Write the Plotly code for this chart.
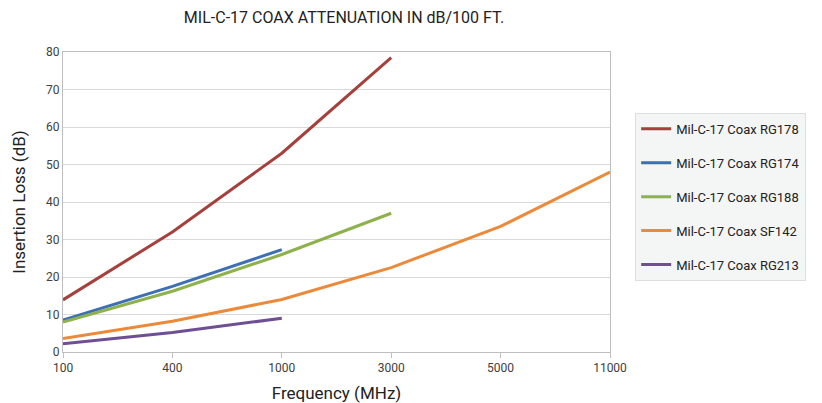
import plotly.graph_objects as go

# Frequency categories (MHz), evenly spaced on the axis
freqs = ["100", "400", "1000", "3000", "5000", "11000"]

# Insertion loss (dB / 100 ft) per cable type
rg178 = [13.9, 32.0, 53.0, 78.5]
rg174 = [8.5, 17.5, 27.3]
rg188 = [8.0, 16.2, 26.0, 37.0]
sf142 = [3.6, 8.2, 14.0, 22.5, 33.5, 48.0]
rg213 = [2.2, 5.2, 9.0]

series = [
    ("Mil-C-17 Coax RG178", rg178, "#a5403c"),
    ("Mil-C-17 Coax RG174", rg174, "#3d6fb5"),
    ("Mil-C-17 Coax RG188", rg188, "#8db24c"),
    ("Mil-C-17 Coax SF142", sf142, "#ea8a3a"),
    ("Mil-C-17 Coax RG213", rg213, "#6f4f93"),
]

fig = go.Figure()
for i, (name, vals, color) in enumerate(series):
    fig.add_trace(go.Scatter(
        x=freqs[:len(vals)], y=vals, name=name, mode="lines",
        line=dict(color=color, width=3),
        legendgroup=f"g{i}",
    ))

font = "Roboto, Arial, sans-serif"
fig.update_layout(
    width=822, height=403,
    margin=dict(l=63, r=212, t=52, b=51),
    paper_bgcolor="white", plot_bgcolor="white",
    font=dict(family=font, color="#404040", size=12),
    showlegend=True,
    title=dict(
        text="MIL-C-17 COAX ATTENUATION IN dB/100 FT.",
        x=344 / 822, xanchor="center", xref="container",
        y=1 - 17 / 403, yanchor="middle", yref="container",
        font=dict(family=font, size=16, color="#222222"),
    ),
    legend=dict(
        x=1.046, xanchor="left", y=0.797, yanchor="top",
        bgcolor="#f4f5f5", bordercolor="#dedede", borderwidth=1,
        font=dict(family=font, size=13, color="#222222"),
        tracegroupgap=14, itemwidth=30,
    ),
    xaxis=dict(
        type="category", categoryorder="array", categoryarray=freqs,
        range=[0, 5], showgrid=False, automargin=False,
        showline=True, linecolor="#bfbfbf", linewidth=1, mirror=True,
        ticks="outside", ticklen=5, tickcolor="#bfbfbf",
        tickfont=dict(size=12, color="#404040"),
        title=dict(text="Frequency (MHz)", font=dict(size=17, color="#222222"), standoff=14),
        zeroline=False,
    ),
    yaxis=dict(
        range=[0, 80], dtick=10, showgrid=True, gridcolor="#d9d9d9", gridwidth=1,
        showline=True, linecolor="#bfbfbf", linewidth=1, mirror=True, automargin=False,
        ticks="", tickfont=dict(size=12, color="#404040"),
        title=dict(text="Insertion Loss (dB)", font=dict(size=17, color="#222222"), standoff=16),
        zeroline=False,
    ),
)

fig.write_html("out.html")
